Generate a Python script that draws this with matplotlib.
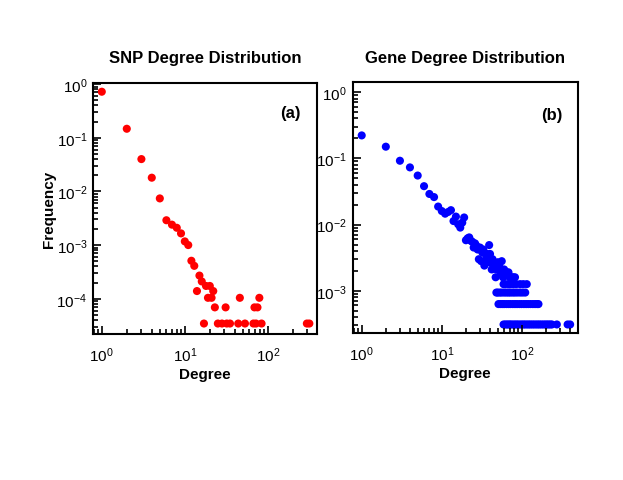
import numpy as np
import matplotlib
matplotlib.use("Agg")
import matplotlib.pyplot as plt
from matplotlib.ticker import LogLocator, NullFormatter

plt.rcParams['font.family'] = ['Liberation Sans', 'DejaVu Sans']
plt.rcParams['mathtext.fontset'] = 'custom'
plt.rcParams['mathtext.rm'] = 'Liberation Sans'

# SNP degree distribution (panel a)
snp_deg = [1, 2, 3, 4, 5, 6, 7, 8, 9, 10, 11, 12, 13, 14, 15, 16, 17, 18, 19, 20, 21, 22, 23,
           25, 28, 31, 32, 35, 44, 46, 53, 67, 69, 72, 75, 79, 84, 295, 316]
snp_freq = [0.72, 0.147, 0.040, 0.018, 0.0074, 0.0029, 0.0024, 0.0021, 0.00165, 0.00117,
            0.0010, 0.00051, 0.00041, 0.000139, 0.00027, 0.00021, 3.45e-5, 0.000173,
            0.000104, 0.000173, 0.000104, 0.000139, 6.9e-5,
            3.45e-5, 3.45e-5, 6.9e-5, 3.45e-5, 3.45e-5, 3.45e-5, 0.000104, 3.45e-5,
            3.45e-5, 6.9e-5, 3.45e-5, 6.9e-5, 0.000104, 3.45e-5, 3.45e-5, 3.45e-5]

# Gene degree distribution (panel b)
gene_deg = [1, 2, 3, 4, 5, 6, 7, 8, 9, 10, 11, 12, 13, 14, 15, 16, 17, 18, 19,
            20, 21, 22, 23, 24, 25, 26, 27, 28, 29, 30, 31, 32, 33, 34, 35, 36, 37, 38,
            39, 40, 41, 42, 43, 44, 46, 47, 48, 50, 52, 54, 56, 58, 60, 63, 65, 68, 70,
            75, 78, 82]
gene_freq = [0.222, 0.150, 0.092, 0.073, 0.055, 0.038, 0.029, 0.026, 0.0187, 0.016,
             0.0146, 0.0155, 0.0165, 0.0113, 0.0132, 0.0101, 0.009, 0.0107, 0.0128,
             0.0058, 0.0062, 0.0064, 0.0057, 0.0055, 0.0045, 0.0052, 0.0048, 0.0042,
             0.0030, 0.0045, 0.0028, 0.0038, 0.0042, 0.0024, 0.0036, 0.0030, 0.0036,
             0.0027, 0.0049, 0.0036, 0.0027, 0.0021, 0.0030, 0.0024, 0.0024, 0.0016,
             0.0021, 0.0027, 0.0024, 0.0019, 0.0028, 0.0016, 0.0021, 0.0019, 0.0019,
             0.0019, 0.0016, 0.0016, 0.0016, 0.0016]
# flat tail rows: k genes of the same count -> same frequency
row4_deg = [59, 62, 68, 72, 78, 85, 95, 104, 115]
row3_deg = [48, 50, 53, 56, 60, 64, 68, 72, 77, 82, 88, 95, 102, 110]
row2_deg = [51, 54, 57, 60, 64, 68, 72, 77, 82, 87, 93, 99, 106, 113, 120, 128, 137, 146, 155, 161]
row1_deg = [59, 62, 65, 68, 71, 74, 78, 82, 86, 90, 95, 100, 105, 110, 116, 122, 128, 135,
            142, 150, 158, 166, 175, 185, 195, 205, 215, 226, 237, 273, 372, 400]
row_freq = [1.26e-3, 9.4e-4, 6.3e-4, 3.1e-4]

fig = plt.figure(figsize=(6.23, 4.81), dpi=100)
ax1 = fig.add_axes([0.149, 0.3035, 0.360, 0.522])
ax2 = fig.add_axes([0.566, 0.3055, 0.3616, 0.521])

ax1.scatter(snp_deg, snp_freq, s=34, c='#ff0000', edgecolors='none')
ax2.scatter(gene_deg, gene_freq, s=34, c='#0000ff', edgecolors='none')
for rd, rf in zip([row4_deg, row3_deg, row2_deg, row1_deg], row_freq):
    ax2.scatter(rd, [rf] * len(rd), s=34, c='#0000ff', edgecolors='none')

ax1.set_xlim(0.78, 392)
ax1.set_ylim(2.2e-5, 1.05)
ax2.set_xlim(0.77, 500)
ax2.set_ylim(2.3e-4, 1.4)

for ax in (ax1, ax2):
    ax.set_xscale('log')
    ax.set_yscale('log')
    ax.xaxis.set_major_locator(LogLocator(base=10, numticks=10))
    ax.yaxis.set_major_locator(LogLocator(base=10, numticks=10))
    ax.xaxis.set_minor_locator(LogLocator(base=10, subs=np.arange(2, 10), numticks=10))
    ax.yaxis.set_minor_locator(LogLocator(base=10, subs=np.arange(2, 10), numticks=10))
    ax.xaxis.set_minor_formatter(NullFormatter())
    ax.yaxis.set_minor_formatter(NullFormatter())
    ax.tick_params(which='both', direction='in', top=False, right=False, labelsize=11, width=1.2)
    ax.tick_params(which='major', length=6)
    ax.tick_params(which='minor', length=3.5)
    ax.tick_params(axis='x', which='major', pad=8)
    ax.tick_params(axis='y', which='major', pad=4)
    for sp in ax.spines.values():
        sp.set_linewidth(1.5)
    ax.set_xlabel('Degree', fontsize=11, fontweight='bold', labelpad=2)

ax1.set_ylabel('Frequency', fontsize=11, fontweight='bold', labelpad=0)
ax1.set_title('SNP Degree Distribution', fontsize=12, fontweight='bold', pad=15)
ax2.set_title('Gene Degree Distribution', fontsize=12, fontweight='bold', pad=15)
ax1.text(0.88, 0.883, '(a)', transform=ax1.transAxes, ha='center', va='center',
         fontsize=12, fontweight='bold')
ax2.text(0.883, 0.873, '(b)', transform=ax2.transAxes, ha='center', va='center',
         fontsize=12, fontweight='bold')

plt.savefig('out.png', dpi=100)
plt.close()
